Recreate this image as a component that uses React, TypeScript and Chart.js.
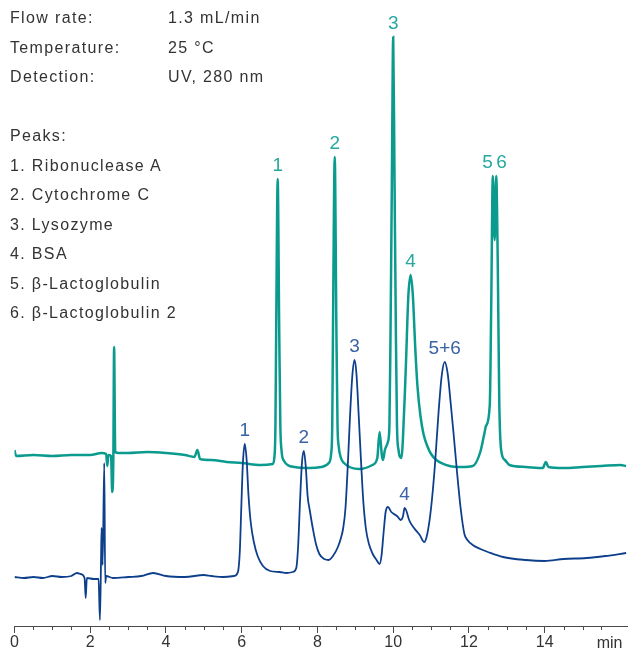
import React, { useEffect, useRef } from 'react';
import { Chart, registerables } from 'chart.js';

Chart.register(...registerables);

const FONT = '"Liberation Sans", Arial, Helvetica, sans-serif';
const TEAL = '#0a9a8e';
const TEAL_TEXT = '#27a89e';
const BLUE = '#0e3f8c';
const BLUE_TEXT = '#3a62a6';
const AXIS = '#4a4a4a';
const TEXT = '#333333';

// Run conditions
const conditionNames = ['Flow rate:', 'Temperature:', 'Detection:'];
const conditionValues = ['1.3 mL/min', '25 °C', 'UV, 280 nm'];
const peaksTitle = 'Peaks:';
const peakNames = [
  '1. Ribonuclease A',
  '2. Cytochrome C',
  '3. Lysozyme',
  '4. BSA',
  '5. β-Lactoglobulin',
  '6. β-Lactoglobulin 2',
];

// Teal trace (upper chromatogram): retention time (min) and detector signal
const tealTime = [
  0.0, 0.04, 0.5, 1.0, 1.5, 2.0, 2.3, 2.42, 2.45, 2.48, 2.55, 2.58, 2.61, 2.63, 2.66, 2.75,
  3.0, 3.5, 4.0, 4.5, 4.75, 4.83, 4.9, 5.2, 5.6, 6.0, 6.5, 6.82,
  6.86, 6.89, 6.91, 6.95, 6.99, 7.02, 7.05, 7.1,
  7.4, 7.8, 8.1, 8.3, 8.36, 8.39, 8.41, 8.456, 8.5, 8.53, 8.56, 8.62, 8.7,
  9.1, 9.45, 9.58, 9.64, 9.7, 9.73, 9.78, 9.86, 9.9, 9.93, 9.965, 10.0, 10.035, 10.07, 10.1, 10.14,
  10.22, 10.25, 10.27, 10.31, 10.34, 10.4, 10.46, 10.52, 10.58, 10.64, 10.72, 10.8, 10.9, 11.0,
  11.14, 11.49, 11.8,
  12.1, 12.3, 12.41, 12.45, 12.55, 12.59, 12.63, 12.68, 12.72, 12.76, 12.8, 12.85, 12.95, 13.07,
  13.5, 13.95, 14.03, 14.1, 14.5, 15.0, 15.5, 16.0, 16.15,
];
const tealSignal = [
  176, 170, 171, 170, 171, 171, 173, 172, 160, 171, 170, 134, 168, 279, 174, 173,
  173, 174, 173, 171, 169, 176, 167, 166, 164, 163, 161, 162,
  168, 200, 296, 447, 296, 200, 176, 166,
  159, 158, 159, 163, 172, 200, 296, 469, 296, 200, 180, 168, 163,
  157, 161, 168, 194, 171, 166, 176, 184, 200, 296, 446, 589, 446, 296, 200, 176,
  168, 182, 199, 235, 266, 330, 351, 330, 280, 240, 210, 192, 180, 172,
  166, 160, 159,
  160, 174, 193, 200, 221, 326, 450, 386, 450, 366, 226, 176, 166, 161,
  159, 158, 164, 159, 158, 159, 160, 161, 160,
];

// Blue trace (lower chromatogram)
const blueTime = [
  0.0, 0.25, 0.5, 0.75, 1.0, 1.25, 1.5, 1.65, 1.75, 1.85, 1.88, 1.91, 2.1, 2.22,
  2.256, 2.285, 2.3, 2.327, 2.37, 2.395, 2.42, 2.6, 3.0, 3.35, 3.66, 4.0, 4.5, 5.0, 5.2, 5.5, 5.8,
  5.9, 5.95, 5.99, 6.03, 6.08, 6.13, 6.18, 6.24, 6.32, 6.42, 6.56, 6.75, 7.0, 7.18, 7.35,
  7.44, 7.49, 7.54, 7.59, 7.64, 7.69, 7.74, 7.8, 7.88, 7.96, 8.05, 8.18, 8.3, 8.41, 8.54,
  8.62, 8.68, 8.74, 8.8, 8.86, 8.92, 8.98, 9.03, 9.09, 9.15, 9.21, 9.28, 9.36, 9.46, 9.56,
  9.64, 9.69, 9.75, 9.8, 9.86, 9.95, 10.1, 10.2, 10.26, 10.3, 10.34, 10.42, 10.55, 10.7,
  10.82, 10.9, 11.0, 11.1, 11.2, 11.28, 11.36, 11.44, 11.52, 11.6, 11.68, 11.78, 11.88,
  11.96, 12.1, 12.3, 12.5, 12.9, 13.5, 14.0, 14.5, 15.1, 15.6, 16.15,
];
const blueSignal = [
  49, 48, 49, 48, 50, 49, 50, 53, 52, 48, 28, 48, 47, 47,
  6, 66, 98, 61, 163, 43, 50, 48, 49, 50, 53, 50, 49, 51, 50, 49, 50,
  54, 75, 120, 162, 182, 166, 130, 103, 84, 70, 60, 55, 54, 53, 54,
  58, 80, 125, 163, 175, 160, 130, 115, 97, 82, 72, 67, 66, 70, 79,
  88, 98, 118, 160, 210, 250, 266, 252, 210, 165, 125, 97, 82, 72, 66,
  62, 70, 95, 114, 119, 114, 110, 106, 110, 118, 116, 106, 98, 91,
  84, 92, 118, 160, 215, 250, 264, 252, 222, 190, 156, 118, 92,
  86, 81, 77, 74, 69, 66, 65, 67, 68, 70, 73,
];

// Peak annotations
const tealPeakLabels = ['1', '2', '3', '4', '5', '6'];
const tealPeakTimes = [6.95, 8.456, 10.0, 10.46, 12.63, 12.72];
const bluePeakLabels = ['1', '2', '3', '4', '5+6'];
const bluePeakTimes = [6.08, 7.64, 8.98, 10.3, 11.36];

// Axis
const xMin = 0;
const xMax = 16.2;
const xLabelStep = 2;
const xMinorStep = 0.5;
const xLastLabeled = 14;
const xUnit = 'min';
const yMin = 0;
const yMax = 626;

function nearestIndex(times: number[], t: number) {
  let best = 0;
  for (let i = 0; i < times.length; i++) {
    if (Math.abs(times[i] - t) < Math.abs(times[best] - t)) best = i;
  }
  return best;
}

const annotatePlugin = {
  id: 'annotate',
  afterDraw(chart: any) {
    const ctx = chart.ctx;
    const xs = chart.scales.x;
    const bottom = chart.chartArea.bottom;
    ctx.save();
    // minor ticks
    ctx.strokeStyle = AXIS;
    ctx.lineWidth = 1;
    for (let v = xMin; v <= xMax + 1e-9; v += xMinorStep) {
      if (Math.abs(v % xLabelStep) < 1e-9) continue;
      const px = Math.round(xs.getPixelForValue(v)) + 0.5;
      ctx.beginPath();
      ctx.moveTo(px, bottom);
      ctx.lineTo(px, bottom + 4);
      ctx.stroke();
    }
    // unit label
    ctx.font = `16px ${FONT}`;
    ctx.fillStyle = TEXT;
    ctx.textAlign = 'right';
    ctx.textBaseline = 'middle';
    ctx.fillText(xUnit, xs.getPixelForValue(16) + 2, bottom + 7 + 1 + 9.6);

    // peak labels
    const groups = [
      { labels: tealPeakLabels, times: tealPeakTimes, series: tealTime, ds: 1, color: TEAL_TEXT },
      { labels: bluePeakLabels, times: bluePeakTimes, series: blueTime, ds: 0, color: BLUE_TEXT },
    ];
    ctx.font = `19px ${FONT}`;
    ctx.textBaseline = 'alphabetic';
    for (const g of groups) {
      const meta = chart.getDatasetMeta(g.ds);
      ctx.fillStyle = g.color;
      for (let i = 0; i < g.labels.length; i++) {
        const el = meta.data[nearestIndex(g.series, g.times[i])];
        let align = 'center';
        if (i + 1 < g.times.length && g.times[i + 1] - g.times[i] < 0.2) align = 'right';
        if (i > 0 && g.times[i] - g.times[i - 1] < 0.2) align = 'left';
        ctx.textAlign = align;
        ctx.fillText(g.labels[i], el.x, el.y - 8);
      }
    }
    ctx.restore();
  },
};

export default function App() {
  const canvasRef = useRef<HTMLCanvasElement | null>(null);

  useEffect(() => {
    document.body.style.margin = '0';
    const canvas = canvasRef.current;
    if (!canvas) return;
    const chart = new Chart(canvas, {
      type: 'line',
      data: {
        datasets: [
          {
            label: 'Blue',
            data: blueTime.map((t, i) => ({ x: t, y: blueSignal[i] })),
            borderColor: BLUE,
            borderWidth: 1.8,
            pointRadius: 0,
            cubicInterpolationMode: 'monotone',
            fill: false,
            order: 0,
          },
          {
            label: 'Teal',
            data: tealTime.map((t, i) => ({ x: t, y: tealSignal[i] })),
            borderColor: TEAL,
            borderWidth: 2.5,
            pointRadius: 0,
            cubicInterpolationMode: 'monotone',
            fill: false,
            order: 1,
          },
        ],
      },
      options: {
        responsive: false,
        animation: false,
        devicePixelRatio: 1,
        layout: { padding: { left: 14.5, right: 0, top: 0, bottom: 0 } },
        plugins: { legend: { display: false }, tooltip: { enabled: false } },
        events: [],
        scales: {
          x: {
            type: 'linear',
            min: xMin,
            max: xMax,
            position: 'bottom',
            border: { display: true, color: AXIS, width: 1 },
            grid: {
              drawOnChartArea: false,
              drawTicks: true,
              tickLength: 7,
              tickWidth: 1,
              tickColor: (c: any) =>
                c.tick && Math.abs(c.tick.value % xLabelStep) < 1e-9 ? AXIS : 'rgba(0,0,0,0)',
            },
            ticks: {
              stepSize: xMinorStep,
              autoSkip: false,
              maxRotation: 0,
              padding: 0,
              color: TEXT,
              font: { family: FONT, size: 16 },
              callback: (v: any) =>
                Math.abs(v % xLabelStep) < 1e-9 && v <= xLastLabeled ? String(v) : '',
            },
            afterFit: (s: any) => {
              s.height = 26;
            },
          },
          y: { type: 'linear', display: false, min: yMin, max: yMax },
        },
      },
      plugins: [annotatePlugin],
    } as any);
    return () => chart.destroy();
  }, []);

  const rowStyle: React.CSSProperties = { height: 29.5, lineHeight: '29.5px', whiteSpace: 'nowrap', position: 'relative' };
  return (
    <div style={{ position: 'relative', width: 628, height: 652 }}>
      <canvas ref={canvasRef} width={628} height={652} style={{ display: 'block', width: 628, height: 652 }} />
      <div
        style={{
          position: 'absolute',
          left: 10,
          top: 3,
          fontFamily: FONT,
          fontSize: 16,
          letterSpacing: '1.35px',
          color: TEXT,
        }}
      >
        {conditionNames.map((n, i) => (
          <div key={n} style={rowStyle}>
            <span>{n}</span>
            <span style={{ position: 'absolute', left: 158 }}>{conditionValues[i]}</span>
          </div>
        ))}
        <div style={rowStyle}>{'\u00a0'}</div>
        <div style={rowStyle}>{peaksTitle}</div>
        {peakNames.map((p) => (
          <div key={p} style={rowStyle}>
            {p}
          </div>
        ))}
      </div>
    </div>
  );
}
